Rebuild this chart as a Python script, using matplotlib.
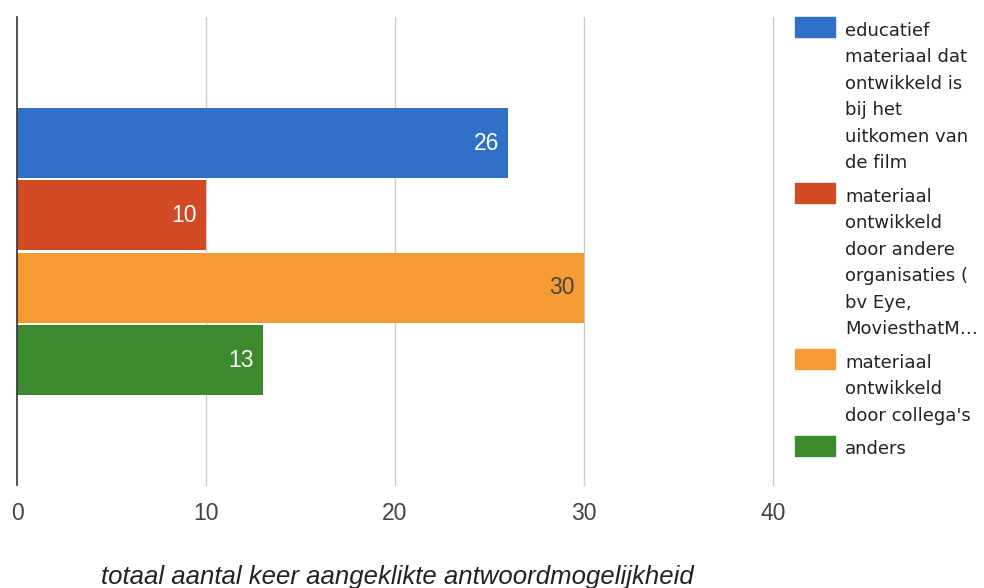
import matplotlib
matplotlib.use("Agg")
import matplotlib.pyplot as plt
from matplotlib import font_manager
from matplotlib.patches import Rectangle

# data
labels = [
    "educatief\nmateriaal dat\nontwikkeld is\nbij het\nuitkomen van\nde film",
    "materiaal\nontwikkeld\ndoor andere\norganisaties (\nbv Eye,\nMoviesthatM\u2026",
    "materiaal\nontwikkeld\ndoor collega's",
    "anders",
]
values = [26, 10, 30, 13]
colors = ["#3070C8", "#D14A24", "#F69B33", "#3E8A2F"]
value_colors = ["white", "white", "#444444", "white"]
xticks = [0, 10, 20, 30, 40]
xlabel = "totaal aantal keer aangeklikte antwoordmogelijkheid"

names = {f.name for f in font_manager.fontManager.ttflist}
num_font = "Liberation Sans Narrow" if "Liberation Sans Narrow" in names else "Liberation Sans"
num_size = 18 if num_font == "Liberation Sans Narrow" else 16.5

W, H = 984, 588
fig = plt.figure(figsize=(W / 100, H / 100), dpi=100)
ax = fig.add_axes([17 / W, 1 - 485 / H, (773 - 17) / W, (485 - 17) / H])

pos = list(range(len(values)))
ax.barh(pos, values, height=0.97, color=colors, zorder=3)
ax.set_xlim(0, 40)
ax.set_ylim(4.728, -1.743)

for p, v, c in zip(pos, values, value_colors):
    ax.annotate(str(v), (v, p), xytext=(-6.5, 0), textcoords="offset points",
                ha="right", va="center", color=c, fontsize=num_size,
                family=num_font, zorder=4)

ax.set_xticks(xticks)
ax.set_xticklabels([str(t) for t in xticks], family=num_font, fontsize=num_size, color="#444444")
ax.set_yticks([])
ax.tick_params(axis="x", length=0, pad=12)
for t in xticks[1:]:
    ax.axvline(t, color="#CCCCCC", lw=1.0, zorder=0, clip_on=False)
for s in ["top", "right", "bottom"]:
    ax.spines[s].set_visible(False)
ax.spines["left"].set_color("#333333")
ax.spines["left"].set_linewidth(1.2)
ax.spines["left"].set_zorder(5)

ax.set_xlabel(xlabel, style="italic", family="Liberation Sans", fontsize=18.5, color="#222222")
ax.xaxis.set_label_coords(0.503, -0.197)
ax.xaxis.label.set_va("center")

# legend, drawn by hand to match the wrapped layout
pitch = 26.4
top = 17
for lab, c in zip(labels, colors):
    fig.add_artist(Rectangle((795 / W, 1 - (top + 20) / H), 40 / W, 20 / H,
                             transform=fig.transFigure, color=c))
    lines = lab.split("\n")
    for i, line in enumerate(lines):
        fig.text(845 / W, 1 - (top + 19 + i * pitch) / H, line, ha="left", va="baseline",
                 fontsize=13, family="DejaVu Sans", color="#222222")
    top += len(lines) * pitch + 7.5

fig.savefig("out.png", dpi=100)
